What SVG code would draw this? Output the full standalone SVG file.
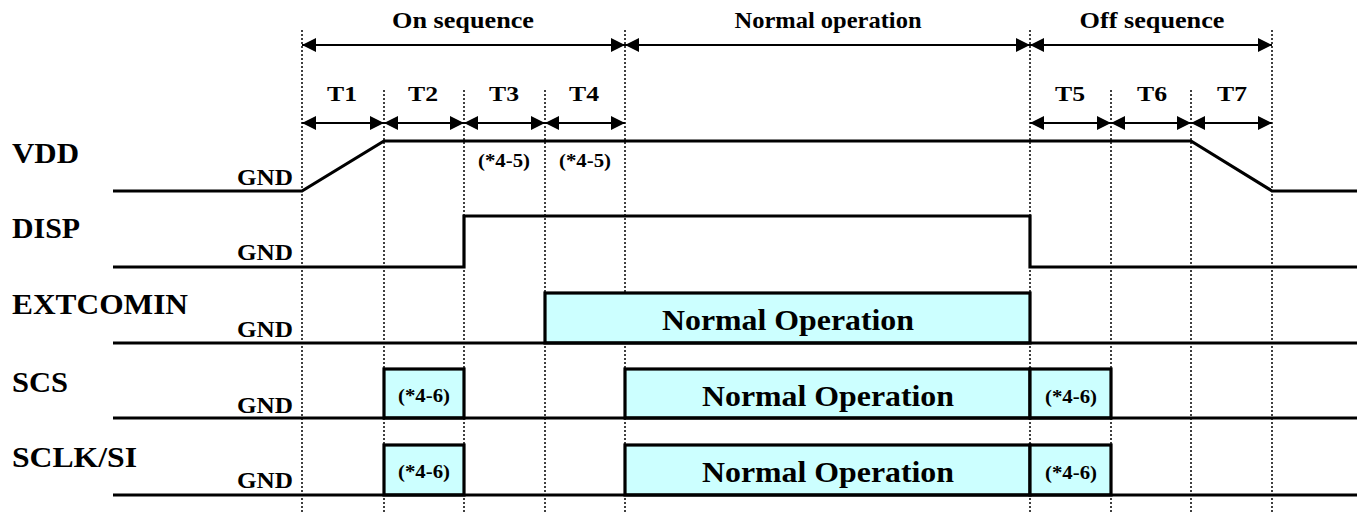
<svg xmlns="http://www.w3.org/2000/svg" width="1357" height="512" viewBox="0 0 1357 512">
<style>
text{font-family:"Liberation Serif","Times New Roman",serif;font-weight:bold;fill:#000}
.grid{stroke:#000;stroke-width:1.5;stroke-dasharray:2,2;fill:none}
.sig{stroke:#000;stroke-width:3.2;fill:none;stroke-linejoin:miter}
.box{stroke:#000;stroke-width:3.2;fill:#CCFFFF}
.arr{stroke:#000;stroke-width:2;fill:none;marker-start:url(#ah);marker-end:url(#ah)}
.lbl{font-size:30px}
.gnd{font-size:24px;text-anchor:end}
.hdr{font-size:23px;text-anchor:middle}
.t{font-size:22px;text-anchor:middle}
.note{font-size:19px;text-anchor:middle}
.no{font-size:30px;text-anchor:middle}
</style>
<defs>
<marker id="ah" markerUnits="userSpaceOnUse" markerWidth="15" markerHeight="14" refX="14" refY="7" orient="auto-start-reverse" viewBox="0 0 15 14">
<path d="M0,0 L14,7 L0,14 z" fill="#000"/>
</marker>
</defs>
<rect width="1357" height="512" fill="#fff"/>
<g id="grid">
<line class="grid" x1="302" y1="30" x2="302" y2="512"/>
<line class="grid" x1="384" y1="90" x2="384" y2="512"/>
<line class="grid" x1="464" y1="90" x2="464" y2="512"/>
<line class="grid" x1="545" y1="90" x2="545" y2="512"/>
<line class="grid" x1="625" y1="30" x2="625" y2="512"/>
<line class="grid" x1="1030" y1="30" x2="1030" y2="512"/>
<line class="grid" x1="1111" y1="90" x2="1111" y2="512"/>
<line class="grid" x1="1191" y1="90" x2="1191" y2="512"/>
<line class="grid" x1="1272" y1="30" x2="1272" y2="512"/>
</g>
<g id="connectors">
<line class="arr" x1="302" y1="45" x2="625" y2="45"/>
<line class="arr" x1="625" y1="45" x2="1030" y2="45"/>
<line class="arr" x1="1030" y1="45" x2="1272" y2="45"/>
<line class="arr" x1="302" y1="123" x2="384" y2="123"/>
<line class="arr" x1="384" y1="123" x2="464" y2="123"/>
<line class="arr" x1="464" y1="123" x2="545" y2="123"/>
<line class="arr" x1="545" y1="123" x2="625" y2="123"/>
<line class="arr" x1="1030" y1="123" x2="1111" y2="123"/>
<line class="arr" x1="1111" y1="123" x2="1191" y2="123"/>
<line class="arr" x1="1191" y1="123" x2="1272" y2="123"/>
</g>
<g id="headers">
<text class="hdr" x="463" y="28" textLength="142" lengthAdjust="spacingAndGlyphs">On sequence</text>
<text class="hdr" x="828" y="28" textLength="187" lengthAdjust="spacingAndGlyphs">Normal operation</text>
<text class="hdr" x="1152" y="28" textLength="145" lengthAdjust="spacingAndGlyphs">Off sequence</text>
<text class="t" x="342" y="101" textLength="30" lengthAdjust="spacingAndGlyphs">T1</text>
<text class="t" x="423" y="101" textLength="30" lengthAdjust="spacingAndGlyphs">T2</text>
<text class="t" x="504" y="101" textLength="30" lengthAdjust="spacingAndGlyphs">T3</text>
<text class="t" x="584" y="101" textLength="30" lengthAdjust="spacingAndGlyphs">T4</text>
<text class="t" x="1070" y="101" textLength="30" lengthAdjust="spacingAndGlyphs">T5</text>
<text class="t" x="1152" y="101" textLength="30" lengthAdjust="spacingAndGlyphs">T6</text>
<text class="t" x="1232" y="101" textLength="30" lengthAdjust="spacingAndGlyphs">T7</text>
</g>
<g id="vdd">
<text class="lbl" x="12" y="163" textLength="67" lengthAdjust="spacingAndGlyphs">VDD</text>
<text class="gnd" x="293" y="185" textLength="56" lengthAdjust="spacingAndGlyphs">GND</text>
<polyline class="sig" points="113,191 302,191 384,141 1191,141 1272,191 1357,191"/>
<text class="note" x="504" y="167" textLength="52" lengthAdjust="spacingAndGlyphs">(*4-5)</text>
<text class="note" x="585" y="167" textLength="52" lengthAdjust="spacingAndGlyphs">(*4-5)</text>
</g>
<g id="disp">
<text class="lbl" x="12" y="238" textLength="68" lengthAdjust="spacingAndGlyphs">DISP</text>
<text class="gnd" x="293" y="260" textLength="56" lengthAdjust="spacingAndGlyphs">GND</text>
<polyline class="sig" points="113,267 464,267 464,216 1030,216 1030,267 1357,267"/>
</g>
<g id="extcomin">
<text class="lbl" x="12" y="314" textLength="176" lengthAdjust="spacingAndGlyphs">EXTCOMIN</text>
<text class="gnd" x="293" y="337" textLength="56" lengthAdjust="spacingAndGlyphs">GND</text>
<rect class="box" x="545" y="293" width="485" height="50"/>
<line class="sig" x1="113" y1="343" x2="1357" y2="343"/>
<text class="no" x="788" y="330" textLength="252" lengthAdjust="spacingAndGlyphs">Normal Operation</text>
</g>
<g id="scs">
<text class="lbl" x="12" y="392" textLength="56" lengthAdjust="spacingAndGlyphs">SCS</text>
<text class="gnd" x="293" y="413" textLength="56" lengthAdjust="spacingAndGlyphs">GND</text>
<rect class="box" x="384" y="369" width="80" height="49"/>
<rect class="box" x="625" y="369" width="405" height="49"/>
<rect class="box" x="1030" y="369" width="81" height="49"/>
<line class="sig" x1="113" y1="418" x2="1357" y2="418"/>
<text class="note" x="424" y="402" textLength="52" lengthAdjust="spacingAndGlyphs">(*4-6)</text>
<text class="no" x="828" y="406" textLength="252" lengthAdjust="spacingAndGlyphs">Normal Operation</text>
<text class="note" x="1071" y="403" font-size="18" textLength="52" lengthAdjust="spacingAndGlyphs">(*4-6)</text>
</g>
<g id="sclk">
<text class="lbl" x="12" y="467" textLength="125" lengthAdjust="spacingAndGlyphs">SCLK/SI</text>
<text class="gnd" x="293" y="488" textLength="56" lengthAdjust="spacingAndGlyphs">GND</text>
<rect class="box" x="384" y="445" width="80" height="50"/>
<rect class="box" x="625" y="445" width="405" height="50"/>
<rect class="box" x="1030" y="445" width="81" height="50"/>
<line class="sig" x1="113" y1="495" x2="1357" y2="495"/>
<text class="note" x="424" y="478" textLength="52" lengthAdjust="spacingAndGlyphs">(*4-6)</text>
<text class="no" x="828" y="482" textLength="252" lengthAdjust="spacingAndGlyphs">Normal Operation</text>
<text class="note" x="1071" y="479" font-size="18" textLength="52" lengthAdjust="spacingAndGlyphs">(*4-6)</text>
</g>
</svg>
